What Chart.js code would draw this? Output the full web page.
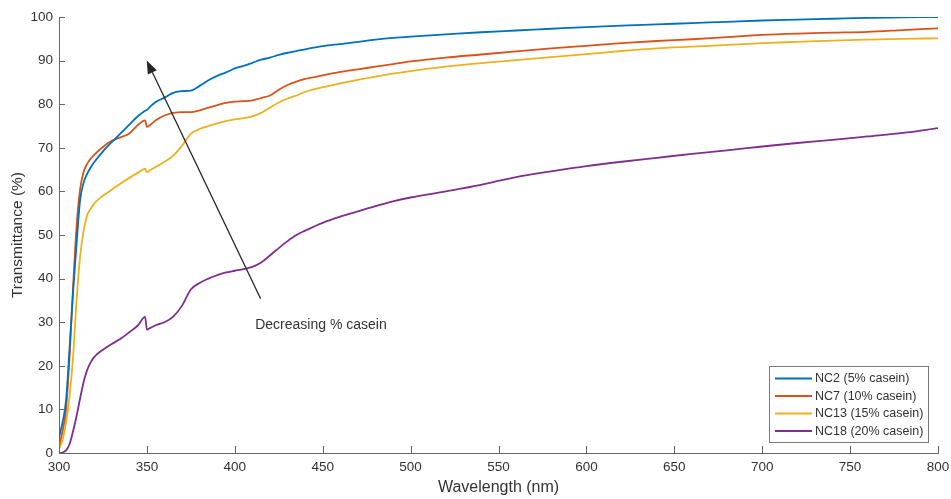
<!DOCTYPE html>
<html>
<head>
<meta charset="utf-8">
<script src="https://cdn.jsdelivr.net/npm/chart.js@4.4.1/dist/chart.umd.min.js"></script>
<style>
  html, body { margin: 0; padding: 0; background: #fff; }
  #wrap { width: 951px; height: 499px; }
</style>
</head>
<body>
<div id="wrap"><canvas id="myChart" width="951" height="499"></canvas></div>
<script>
// wavelength grid (nm)
var wavelengths = [300, 302, 304, 306, 308, 310, 312, 314, 316, 318, 320, 325, 330, 335, 340, 345, 349, 350, 352, 355,
  360, 365, 370, 375, 380, 385, 390, 395, 400, 405, 410, 415, 420, 425, 430, 435, 440, 450, 460, 470,
  480, 490, 500, 520, 540, 560, 580, 600, 620, 640, 660, 680, 700, 720, 740, 760, 780, 800];

// transmittance (%)
var nc2 = [3.5, 7, 12, 24, 37, 48, 58, 62, 64, 65.5, 66.7, 69.2, 71.3, 73.3, 75.3, 77.3, 78.5, 78.7, 79.5, 80.5,
  81.5, 82.6, 83, 83.1, 84.2, 85.5, 86.5, 87.3, 88.2, 88.8, 89.5, 90.2, 90.7, 91.3, 91.8, 92.2, 92.6, 93.3, 93.8, 94.3,
  94.8, 95.2, 95.5, 96, 96.5, 96.9, 97.3, 97.7, 98, 98.3, 98.6, 98.9, 99.2, 99.4, 99.6, 99.8, 99.9, 100];
var nc7 = [1.5, 5, 10, 22, 38, 52, 60.5, 64.5, 66.3, 67.5, 68.4, 70.2, 71.6, 72.4, 73.3, 75.3, 76.3, 74.8, 75.3, 76.3,
  77.4, 78, 78.2, 78.2, 78.6, 79.2, 79.8, 80.3, 80.6, 80.7, 80.9, 81.4, 82, 83.3, 84.4, 85.2, 85.8, 86.6, 87.4, 88,
  88.6, 89.2, 89.8, 90.7, 91.4, 92.1, 92.8, 93.4, 94, 94.5, 94.9, 95.4, 95.9, 96.2, 96.4, 96.6, 97, 97.4];
var nc13 = [1, 3, 7, 13, 22, 35, 45, 51, 54.5, 56, 57.2, 59, 60.4, 61.8, 63.1, 64.3, 65.2, 64.4, 64.9, 65.6,
  66.8, 68.2, 70.5, 73.2, 74.3, 75, 75.6, 76.1, 76.5, 76.8, 77.2, 78, 79.2, 80.4, 81.3, 82, 82.8, 83.9, 84.8, 85.6,
  86.3, 87, 87.6, 88.6, 89.4, 90.1, 90.8, 91.5, 92.2, 92.8, 93.2, 93.6, 94, 94.3, 94.6, 94.8, 95, 95.1];
var nc18 = [0, 0.1, 0.6, 2, 5, 8.5, 12.5, 16.3, 19, 20.8, 22, 23.7, 25, 26.2, 27.7, 29.3, 31.2, 28.3, 28.7, 29.3,
  30, 31.3, 33.8, 37.5, 39, 40, 40.8, 41.4, 41.8, 42.2, 42.7, 43.7, 45.3, 47, 48.6, 50, 51, 52.8, 54.2, 55.4,
  56.6, 57.7, 58.6, 60, 61.5, 63.3, 64.6, 65.8, 66.8, 67.7, 68.6, 69.4, 70.3, 71.1, 71.8, 72.6, 73.4, 74.5];

var seriesLabels = ["NC2 (5% casein)", "NC7 (10% casein)", "NC13 (15% casein)", "NC18 (20% casein)"];
var seriesColors = ["#0072BD", "#D95319", "#EDB120", "#7E2F8E"];
var annotationText = "Decreasing % casein";

var textColor = "#333333";
var axisColor = "#666666";
var fontName = "'Liberation Sans', Arial, sans-serif";

function toPoints(values) {
  var pts = [];
  for (var i = 0; i < wavelengths.length; i++) {
    pts.push({ x: wavelengths[i], y: values[i] });
  }
  return pts;
}

// inward ticks, legend box and arrow annotation
var extras = {
  id: "extras",
  afterDatasetsDraw: function (chart) {
    var ctx = chart.ctx;
    var xs = chart.scales.x, ys = chart.scales.y;
    var area = chart.chartArea;
    ctx.save();
    ctx.strokeStyle = axisColor;
    ctx.lineWidth = 1;
    xs.ticks.forEach(function (t) {
      var px = Math.round(xs.getPixelForValue(t.value)) + 0.5;
      ctx.beginPath();
      ctx.moveTo(px, area.bottom);
      ctx.lineTo(px, area.bottom - 7);
      ctx.stroke();
    });
    ys.ticks.forEach(function (t) {
      var py = Math.round(ys.getPixelForValue(t.value)) + 0.5;
      ctx.beginPath();
      ctx.moveTo(area.left, py);
      ctx.lineTo(area.left + 6, py);
      ctx.stroke();
    });

    // arrow
    var x0 = xs.getPixelForValue(414.7), y0 = ys.getPixelForValue(35.4);
    var x1 = xs.getPixelForValue(349.9), y1 = ys.getPixelForValue(90);
    var ang = Math.atan2(y1 - y0, x1 - x0);
    var headLen = 13, headW = 5;
    var bx = x1 - headLen * Math.cos(ang), by = y1 - headLen * Math.sin(ang);
    ctx.strokeStyle = "#262626";
    ctx.fillStyle = "#262626";
    ctx.lineWidth = 1.3;
    ctx.beginPath();
    ctx.moveTo(x0, y0);
    ctx.lineTo(bx, by);
    ctx.stroke();
    ctx.beginPath();
    ctx.moveTo(x1, y1);
    ctx.lineTo(bx + headW * Math.sin(ang), by - headW * Math.cos(ang));
    ctx.lineTo(bx - headW * Math.sin(ang), by + headW * Math.cos(ang));
    ctx.closePath();
    ctx.fill();

    ctx.fillStyle = textColor;
    ctx.font = "14px " + fontName;
    ctx.textBaseline = "middle";
    ctx.textAlign = "left";
    ctx.fillText(annotationText, xs.getPixelForValue(411.6), ys.getPixelForValue(29.4));

    // legend
    var lw = 159, lh = 76;
    var lx = area.right - 10 - lw, ly = area.bottom - 11 - lh;
    ctx.fillStyle = "#fff";
    ctx.fillRect(lx, ly, lw, lh);
    ctx.strokeStyle = "#7a7a7a";
    ctx.lineWidth = 1;
    ctx.strokeRect(Math.round(lx) + 0.5, Math.round(ly) + 0.5, lw, lh);
    ctx.font = "12.5px " + fontName;
    chart.data.datasets.forEach(function (ds, i) {
      var yy = ly + 12.5 + i * 17.5;
      ctx.strokeStyle = ds.borderColor;
      ctx.lineWidth = 2;
      ctx.beginPath();
      ctx.moveTo(lx + 6, yy);
      ctx.lineTo(lx + 43, yy);
      ctx.stroke();
      ctx.fillStyle = textColor;
      ctx.fillText(ds.label, lx + 46, yy + 0.5);
    });
    ctx.restore();
  }
};

var datasets = [nc2, nc7, nc13, nc18].map(function (vals, i) {
  return {
    label: seriesLabels[i],
    data: toPoints(vals),
    borderColor: seriesColors[i],
    backgroundColor: seriesColors[i],
    borderWidth: 1.8,
    pointRadius: 0,
    cubicInterpolationMode: "monotone",
    fill: false
  };
});

var ctx = document.getElementById("myChart");
var chart = new Chart(ctx, {
  type: "line",
  data: { datasets: datasets },
  options: {
    responsive: false,
    animation: false,
    layout: { padding: { top: 17, right: 13, left: 0, bottom: 0 } },
    plugins: { legend: { display: false }, tooltip: { enabled: false } },
    scales: {
      x: {
        type: "linear",
        min: 300, max: 800,
        ticks: { stepSize: 50, color: textColor, padding: 6, font: { family: fontName, size: 13.5 } },
        grid: { display: false, drawTicks: false },
        border: { display: true, color: axisColor, width: 1 },
        title: { display: true, text: "Wavelength (nm)", color: textColor, padding: { top: 0, bottom: 2 }, font: { family: fontName, size: 16 } },
        afterFit: function (scale) {
          scale.height = 46;
          scale.paddingLeft = 0;
          scale.paddingRight = 0;
        }
      },
      y: {
        min: 0, max: 100,
        ticks: { stepSize: 10, color: textColor, padding: 6, font: { family: fontName, size: 13.5 } },
        grid: { display: false, drawTicks: false },
        border: { display: true, color: axisColor, width: 1 },
        title: { display: true, text: "Transmittance (%)", color: textColor, padding: { top: 8, bottom: 0 }, font: { family: fontName, size: 15.5 } },
        afterFit: function (scale) {
          scale.width = 59;
          scale.paddingTop = 0;
          scale.paddingBottom = 0;
        }
      }
    }
  },
  plugins: [extras]
});
</script>
</body>
</html>
